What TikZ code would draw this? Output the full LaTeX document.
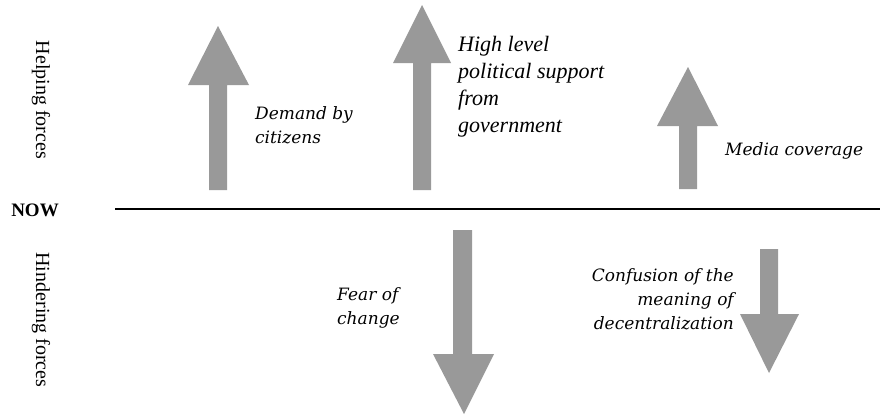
\documentclass[tikz,border=0pt]{standalone}
\usepackage{fontspec}
\setmainfont{Liberation Serif}
\newfontfamily\slabit{DejaVu Serif}
\newfontfamily\timesit{Liberation Serif Italic}
\definecolor{arrowgray}{RGB}{153,153,153}
\begin{document}
\begin{tikzpicture}[x=1pt,y=-1pt,
  forcearrow/.style={fill=arrowgray,draw=none},
  sidelabel/.style={font=\fontsize{20}{22}\selectfont, rotate=-90, inner sep=0pt},
  slablabel/.style={font=\slabit\itshape\fontsize{17}{24}\selectfont, inner sep=0pt},
  timeslabel/.style={font=\timesit\fontsize{22}{27}\selectfont, inner sep=0pt, align=left}
]
\useasboundingbox (0,0) rectangle (880,415);
% left labels
\node[sidelabel] (help) at (41,100) {Helping forces};
\node[font=\bfseries\fontsize{19}{20}\selectfont, inner sep=0pt] (now) at (35,210) {NOW};
\node[sidelabel] (hind) at (41,320) {Hindering forces};
% now line
\coordinate (lineL) at (115,209);
\coordinate (lineR) at (880,209);
\draw[line width=1.6pt] (lineL) -- (lineR);
% helping arrows (up)
\fill[forcearrow] (209,190) -- (209,85) -- (188,85) -- (218,26) -- (249,85) -- (227,85) -- (227,190) -- cycle;
\fill[forcearrow] (413,190) -- (413,63) -- (393,63) -- (422,5) -- (451,63) -- (431,63) -- (431,190) -- cycle;
\fill[forcearrow] (679,189) -- (679,126) -- (657,126) -- (688,67) -- (718,126) -- (697,126) -- (697,189) -- cycle;
% hindering arrows (down)
\fill[forcearrow] (453,230) -- (453,354) -- (433,354) -- (464,414) -- (494,354) -- (472,354) -- (472,230) -- cycle;
\fill[forcearrow] (760,249) -- (760,314) -- (740,314) -- (769,373) -- (799,314) -- (778,314) -- (778,249) -- cycle;
% labels
\node[slablabel, anchor=west, align=left] (demand) at (255,125) {Demand by\\citizens};
\node[timeslabel, anchor=west] (gov) at (458,87) {High level\\political support\\from\\government};
\node[slablabel, anchor=west] (media) at (725,151) {Media coverage};
\node[slablabel, anchor=west, align=left] (fear) at (337,308) {Fear of\\change};
\node[slablabel, anchor=east, align=right] (conf) at (734,299) {Confusion of the\\meaning of\\decentralization};
\end{tikzpicture}
\end{document}
